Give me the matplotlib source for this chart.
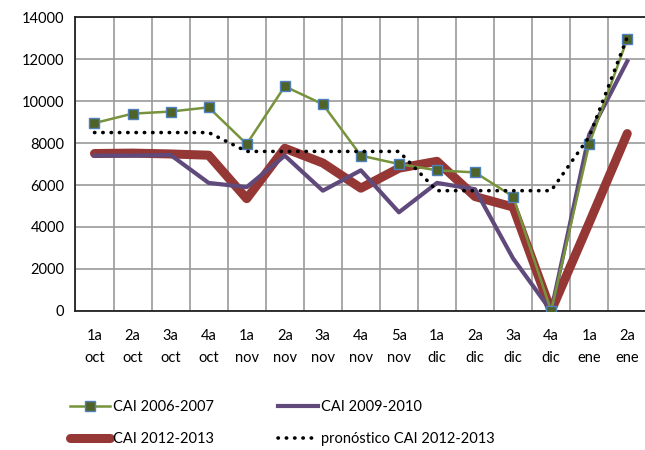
import matplotlib.pyplot as plt

plt.rcParams['font.family'] = ['Lato', 'DejaVu Sans']

# Semanas (etiquetas del eje x)
semanas = ['1a\noct', '2a\noct', '3a\noct', '4a\noct', '1a\nnov', '2a\nnov', '3a\nnov',
           '4a\nnov', '5a\nnov', '1a\ndic', '2a\ndic', '3a\ndic', '4a\ndic', '1a\nene', '2a\nene']

# Series de CAI
cai_2006_2007 = [8950, 9400, 9500, 9700, 7950, 10700, 9850, 7400, 7000, 6700, 6600, 5450, 0, 7950, 12950]
cai_2009_2010 = [7400, 7400, 7430, 6100, 5900, 7400, 5730, 6700, 4700, 6100, 5800, 2500, 0, 8400, 11900]
cai_2012_2013 = [7500, 7520, 7480, 7420, 5350, 7750, 7050, 5850, 6800, 7130, 5450, 4950, 0, 4200, 8450]
pronostico = [8500, 8500, 8500, 8500, 7600, 7600, 7600, 7600, 7600, 5730, 5730, 5730, 5730, 8300, 13050]

fig = plt.figure(figsize=(6.45, 4.5), dpi=100)
ax = fig.add_axes([0.117, 0.309, 0.885, 0.653])

x = list(range(len(semanas)))

l1, = ax.plot(x, cai_2006_2007, color='#77933C', lw=1.8, marker='s', markersize=6.5,
              markerfacecolor='#4F6228', markeredgecolor='#4F81BD', markeredgewidth=1.0,
              label='CAI 2006-2007', zorder=5)
l2, = ax.plot(x, cai_2009_2010, color='#604A7B', lw=3, label='CAI 2009-2010', zorder=4)
l3, = ax.plot(x, cai_2012_2013, color='#953735', lw=6.5, solid_capstyle='round',
              label='CAI 2012-2013', zorder=3)
l4, = ax.plot(x, pronostico, color='black', lw=2.6, linestyle=(0, (0.1, 2.2)),
              dash_capstyle='round', label='pronóstico CAI 2012-2013', zorder=6)

# Ejes y rejilla
ax.set_xlim(-0.5, len(semanas) - 0.5)
ax.set_ylim(0, 14000)
ax.set_yticks(range(0, 14001, 2000))
ax.set_xticks(x)
ax.set_xticklabels(semanas, fontsize=10.5, linespacing=1.75)
ax.tick_params(axis='y', labelsize=10.5, length=0, pad=8)
ax.tick_params(axis='x', length=0, pad=13)

ax.set_xticks([i + 0.5 for i in range(-1, len(semanas))], minor=True)
ax.grid(True, axis='y', color='#999999', lw=1.2)
ax.grid(True, axis='x', which='minor', color='#999999', lw=1.2)
ax.tick_params(which='minor', length=0)
ax.set_axisbelow(True)

for s in ['left', 'bottom', 'top']:
    ax.spines[s].set_color('#222222')
    ax.spines[s].set_linewidth(1.3)
ax.spines['right'].set_visible(False)

# Leyenda en dos columnas, orden por filas como en el original
fig.legend([l1, l3, l2, l4], [l1.get_label(), l3.get_label(), l2.get_label(), l4.get_label()],
           loc='upper left', bbox_to_anchor=(0.088, 0.14), ncol=2, frameon=False,
           fontsize=10.5, handlelength=2.75, handletextpad=0.2, columnspacing=4.4,
           labelspacing=1.2)

plt.savefig('out.png', dpi=100)
